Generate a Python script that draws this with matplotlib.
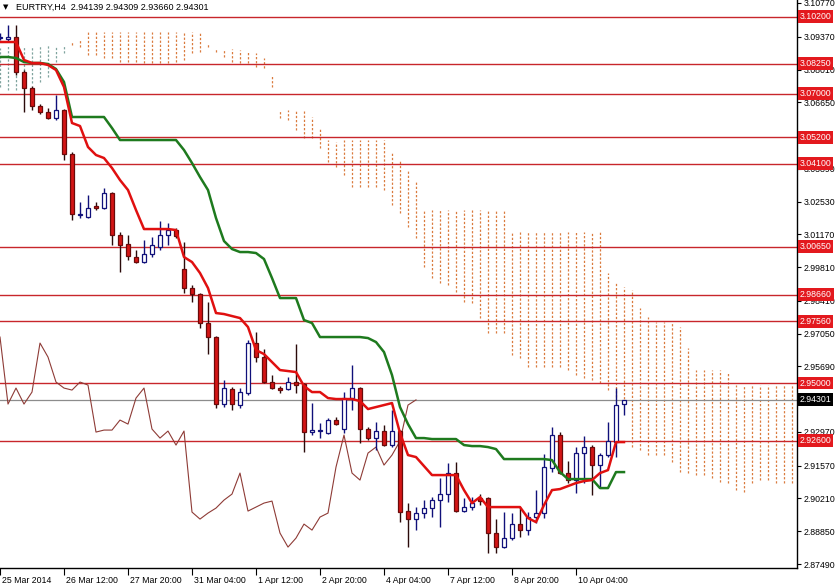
import matplotlib
matplotlib.use("Agg")
import matplotlib.pyplot as plt
import matplotlib.transforms as mtransforms
import numpy as np

# ---------------- data ----------------
symbol_title = "EURTRY,H4  2.94139 2.94309 2.93660 2.94301"

opens = [3.09317, 3.09276, 3.09359, 3.07906, 3.07242, 3.06495, 3.06246, 3.05997, 3.06329, 3.04503,
         3.01972, 3.01889, 3.02345, 3.02262, 3.02885, 3.01142, 3.00768, 3.00229, 3.00021, 3.00353,
         3.00644, 3.01142, 3.01349, 2.99731, 2.98942, 2.98693, 2.97490, 2.96909, 2.94128, 2.94751,
         2.94087, 2.94585, 2.96660, 2.96079, 2.95041, 2.94792, 2.94751, 2.95041, 2.94958, 2.92966,
         2.93008, 2.92925, 2.93464, 2.93091, 2.94377, 2.94792, 2.93091, 2.92717, 2.93008, 2.92427,
         2.93008, 2.89688, 2.89356, 2.89605, 2.89812, 2.90144, 2.90393, 2.91265, 2.89688, 2.89854,
         2.90227, 2.90227, 2.88775, 2.88194, 2.88567, 2.89148, 2.88899, 2.89439, 2.89605, 2.91472,
         2.92842, 2.91265, 2.90974, 2.92095, 2.92344, 2.91597, 2.92012, 2.92551, 2.94139]
highs = [3.09525, 3.09857, 3.09857, 3.07989, 3.07325, 3.06578, 3.06412, 3.06952, 3.06371, 3.04586,
         3.02511, 3.02802, 3.02511, 3.03092, 3.02926, 3.01266, 3.01142, 3.00519, 3.00934, 3.01059,
         3.01723, 3.01640, 3.01432, 3.00851, 2.99067, 2.98735, 2.98361, 2.96950, 2.95124, 2.94834,
         2.94792, 2.96784, 2.97116, 2.96411, 2.95332, 2.94875, 2.95249, 2.96618, 2.95000, 2.94170,
         2.93340, 2.93547, 2.93589, 2.94626, 2.95747, 2.94834, 2.93174, 2.93381, 2.93257, 2.93879,
         2.93049, 2.90020, 2.89854, 2.90144, 2.90269, 2.91057, 2.91680, 2.91721, 2.90227, 2.90269,
         2.90393, 2.90269, 2.89356, 2.89646, 2.89605, 2.89854, 2.89646, 2.90559, 2.92053, 2.93174,
         2.92966, 2.91763, 2.92344, 2.92800, 2.92427, 2.92095, 2.93381, 2.94792, 2.94309]
lows = [3.09234, 3.09193, 3.07782, 3.06246, 3.06329, 3.06163, 3.05956, 3.05914, 3.04254, 3.01764,
        3.01847, 3.01847, 3.02179, 3.02221, 3.00727, 2.99606, 3.00104, 2.99980, 2.99980, 3.00229,
        3.00519, 3.00727, 3.01017, 2.98735, 2.98361, 2.97282, 2.96203, 2.93962, 2.94004, 2.93879,
        2.93962, 2.94502, 2.95871, 2.95000, 2.94751, 2.94585, 2.94709, 2.94585, 2.92136, 2.92842,
        2.92717, 2.92883, 2.93257, 2.92925, 2.93879, 2.92510, 2.92634, 2.92219, 2.92385, 2.92344,
        2.89231, 2.88194, 2.88899, 2.89397, 2.89439, 2.89024, 2.90061, 2.89646, 2.89646, 2.89729,
        2.89937, 2.87945, 2.87945, 2.88152, 2.88484, 2.88609, 2.88692, 2.89190, 2.89397, 2.91306,
        2.91223, 2.90850, 2.90435, 2.90850, 2.90352, 2.90642, 2.91929, 2.91929, 2.93660]
closes = [3.09359, 3.09359, 3.07906, 3.07242, 3.06495, 3.06246, 3.05997, 3.06329, 3.04503, 3.02013,
          3.02013, 3.02262, 3.02262, 3.02885, 3.01142, 3.00727, 3.00270, 3.00021, 3.00353, 3.00727,
          3.01142, 3.01349, 3.01100, 2.98942, 2.98693, 2.97490, 2.96909, 2.94128, 2.94792, 2.94128,
          2.94626, 2.96660, 2.96079, 2.95041, 2.94792, 2.94709, 2.95041, 2.94917, 2.92966, 2.93049,
          2.93049, 2.93464, 2.93298, 2.94377, 2.94792, 2.93091, 2.92717, 2.93008, 2.92427, 2.93008,
          2.89646, 2.89356, 2.89605, 2.89812, 2.90144, 2.90393, 2.91265, 2.89688, 2.89854, 2.90020,
          2.90103, 2.88775, 2.88194, 2.88567, 2.89148, 2.88899, 2.89439, 2.89605, 2.91514, 2.92842,
          2.91265, 2.90974, 2.92095, 2.92344, 2.91597, 2.92012, 2.92593, 2.94087, 2.94301]

tenkan = [3.09151, 3.09151, 3.09151, 3.08404, 3.08280, 3.08280, 3.08197, 3.07989, 3.07284, 3.05790,
          3.05665, 3.04794, 3.04462, 3.04337, 3.03922, 3.03424, 3.03009, 3.02179, 3.01390, 3.01390,
          3.01390, 3.01390, 3.01349, 3.00229, 3.00021, 2.99565, 2.98942, 2.97905, 2.97863, 2.97780,
          2.97697, 2.97324, 2.96369, 2.96203, 2.95871, 2.95539, 2.95498, 2.95456, 2.94875, 2.94626,
          2.94626, 2.94377, 2.94336, 2.94336, 2.94336, 2.94253, 2.93921, 2.94004, 2.94087, 2.94170,
          2.92925, 2.92012, 2.91929, 2.91555, 2.91182, 2.91182, 2.91182, 2.91182, 2.90559, 2.90020,
          2.90269, 2.89854, 2.89854, 2.89854, 2.89854, 2.89854, 2.89397, 2.89231, 2.89937, 2.90559,
          2.90601, 2.90725, 2.90850, 2.90933, 2.90974, 2.91265, 2.91389, 2.92551, 2.92551]
kijun = [3.08529, 3.08529, 3.08487, 3.08321, 3.08280, 3.08280, 3.08238, 3.08031, 3.07491, 3.06039,
         3.06039, 3.06039, 3.06039, 3.06039, 3.05582, 3.05084, 3.05084, 3.05084, 3.05084, 3.05084,
         3.05084, 3.05084, 3.05084, 3.04669, 3.04130, 3.03549, 3.03009, 3.01847, 3.00893, 3.00561,
         3.00436, 3.00436, 3.00395, 3.00146, 2.99357, 2.98527, 2.98527, 2.98527, 2.97614, 2.97490,
         2.96909, 2.96909, 2.96909, 2.96909, 2.96909, 2.96909, 2.96867, 2.96701, 2.96286, 2.95332,
         2.94004, 2.93298, 2.92717, 2.92717, 2.92676, 2.92676, 2.92676, 2.92676, 2.92427, 2.92385,
         2.92385, 2.92344, 2.92261, 2.91846, 2.91846, 2.91846, 2.91846, 2.91846, 2.91846, 2.91804,
         2.91306, 2.91016, 2.91016, 2.91016, 2.91016, 2.90642, 2.90642, 2.91306, 2.91306]

# Senkou spans (already shifted 26 bars forward, so they run past the last candle)
span_a = [3.08902, 3.09027, 3.09027, 3.08944, 3.08944, 3.09027, 3.09027, 3.08944, 3.09027, 3.09027,
          3.08944, 3.08612, 3.08612, 3.08487, 3.08487, 3.08321, 3.08321, 3.08321, 3.08280, 3.08280,
          3.08280, 3.08280, 3.08321, 3.08404, 3.08695, 3.08736, 3.08944, 3.08736, 3.08529, 3.08321,
          3.08280, 3.08280, 3.08114, 3.08072, 3.07284, 3.05997, 3.05914, 3.05499, 3.05167, 3.05167,
          3.04752, 3.04171, 3.03964, 3.03632, 3.03134, 3.03134, 3.03134, 3.03134, 3.03009, 3.02387,
          3.02055, 3.01474, 3.01017, 2.99814, 2.99357, 2.99150, 2.99067, 2.98776, 2.98361, 2.98320,
          2.97697, 2.97075, 2.97075, 2.97075, 2.96162, 2.96037, 2.95664, 2.95664, 2.95664, 2.95664,
          2.95664, 2.95539, 2.95332, 2.95207, 2.95124, 2.95000, 2.94709, 2.94419, 2.94170, 2.92344,
          2.92219, 2.92012, 2.92012, 2.92012, 2.91721, 2.91306, 2.91265, 2.91182, 2.91182, 2.91057,
          2.90891, 2.90850, 2.90559, 2.90476, 2.90850, 2.90974, 2.90974, 2.90850, 2.90850, 2.90850]
span_b = [3.07284, 3.07159, 3.07159, 3.07284, 3.07450, 3.07491, 3.07699, 3.08321, 3.08695, 3.09151,
          3.09234, 3.09566, 3.09566, 3.09566, 3.09566, 3.09566, 3.09566, 3.09566, 3.09566, 3.09566,
          3.09566, 3.09566, 3.09566, 3.09566, 3.09566, 3.09566, 3.09110, 3.08861, 3.08861, 3.08861,
          3.08819, 3.08736, 3.08695, 3.08487, 3.07782, 3.06329, 3.06329, 3.06329, 3.06329, 3.06039,
          3.05582, 3.05084, 3.05001, 3.05084, 3.05084, 3.05084, 3.05084, 3.05084, 3.05084, 3.04586,
          3.04254, 3.03839, 3.03341, 3.02179, 3.02179, 3.02179, 3.02179, 3.02179, 3.02179, 3.02179,
          3.02179, 3.02179, 3.02179, 3.02179, 3.01266, 3.01266, 3.01266, 3.01266, 3.01266, 3.01266,
          3.01266, 3.01266, 3.01266, 3.01266, 3.01266, 3.01266, 2.99565, 2.99191, 2.98984, 2.98859,
          2.98112, 2.97739, 2.97531, 2.97531, 2.97531, 2.97324, 2.96452, 2.95539, 2.95539, 2.95539,
          2.95539, 2.95415, 2.94917, 2.94917, 2.94917, 2.94917, 2.94917, 2.94917, 2.94917, 2.94917]

levels = [3.10200, 3.08250, 3.07000, 3.05200, 3.04100, 3.00650, 2.98660, 2.97560, 2.95000, 2.92600]
y_ticks = [3.10770, 3.09370, 3.08010, 3.06650, 3.05290, 3.03890, 3.02530, 3.01170, 2.99810,
           2.98410, 2.97050, 2.95690, 2.94330, 2.92970, 2.91570, 2.90210, 2.88850, 2.87490]
y_tick_labels = ["3.10770", "3.09370", "3.08010", "3.06650", "", "3.03890", "3.02530", "3.01170",
                 "2.99810", "2.98410", "2.97050", "2.95690", "", "2.92970", "2.91570", "2.90210",
                 "2.88850", "2.87490"]
x_tick_labels = ["25 Mar 2014", "26 Mar 12:00", "27 Mar 20:00", "31 Mar 04:00", "1 Apr 12:00",
                 "2 Apr 20:00", "4 Apr 04:00", "7 Apr 12:00", "8 Apr 20:00", "10 Apr 04:00"]
x_tick_bars = [0, 8, 16, 24, 32, 40, 48, 56, 64, 72]
chikou_shift = 26

# ---------------- figure ----------------
W, H = 837, 584
fig = plt.figure(figsize=(W / 100, H / 100), dpi=100)
ax_left, ax_right, ax_bottom, ax_top = 0, 797, 568, 0
ax = fig.add_axes([ax_left / W, (H - ax_bottom) / H, (ax_right - ax_left) / W, (ax_bottom - ax_top) / H])
ax.set_facecolor("white")
FONT = ["Liberation Sans", "DejaVu Sans"]
FS = 6.3

n = len(closes)
idx = np.arange(n)
o = np.array(opens); h = np.array(highs); l = np.array(lows); c = np.array(closes)

# cloud as dotted vertical lines
sa = np.array(span_a); sb = np.array(span_b)
cidx = np.arange(len(sa))
bear = sb >= sa
ax.vlines(cidx[bear], np.minimum(sa, sb)[bear], np.maximum(sa, sb)[bear],
          colors="#DA7B3E", linewidth=0.9, linestyles=(0, (1.8, 1.5)), zorder=1)
ax.vlines(cidx[~bear], np.minimum(sa, sb)[~bear], np.maximum(sa, sb)[~bear],
          colors="#7FA39E", linewidth=0.9, linestyles=(0, (1.8, 1.5)), zorder=1)

# horizontal levels
for lv in levels:
    ax.axhline(lv, color="#C8262B", linewidth=1.0, zorder=2)
ax.axhline(closes[-1], color="#8C8C8C", linewidth=0.9, zorder=2)

# chikou span
ax.plot(idx[chikou_shift:] - chikou_shift, c[chikou_shift:], color="#8E3B36", linewidth=0.8, zorder=3)

# candles
up = c >= o
ax.vlines(idx[up], l[up], h[up], color="#10107A", linewidth=1.0, zorder=4)
ax.vlines(idx[~up], l[~up], h[~up], color="#2A0A0A", linewidth=1.0, zorder=4)
body_lo = np.minimum(o, c); body_hi = np.maximum(o, c)
body_h = np.maximum(body_hi - body_lo, 0.0004)
ax.bar(idx[up], body_h[up], bottom=body_lo[up], width=0.55, facecolor="white",
       edgecolor="#10107A", linewidth=0.9, zorder=5)
ax.bar(idx[~up], body_h[~up], bottom=body_lo[~up], width=0.55, facecolor="#D41515",
       edgecolor="#6A0A0A", linewidth=0.9, zorder=5)

# tenkan / kijun
ax.plot(idx, kijun, color="#1E7A1E", linewidth=1.8, zorder=6)
ax.plot(idx, tenkan, color="#E01010", linewidth=1.8, zorder=7)

# axes limits / spines
ax.set_xlim(0, (ax_right - ax_left) / 8.0)
ax.set_ylim(2.87326, 3.10894)
for s in ["top", "left"]:
    ax.spines[s].set_visible(False)
ax.spines["right"].set_color("black")
ax.spines["bottom"].set_color("black")
ax.spines["right"].set_linewidth(1.0)
ax.spines["bottom"].set_linewidth(1.0)

ax.yaxis.tick_right()
ax.set_yticks(y_ticks)
ax.set_yticklabels(y_tick_labels, fontsize=FS, family=FONT)
ax.tick_params(axis="y", direction="out", length=3, width=0.8, pad=1.5, colors="black")

ax.set_xticks(x_tick_bars)
ax.set_xticklabels(x_tick_labels, fontsize=FS, family=FONT)
ax.tick_params(axis="x", direction="out", length=5, width=0.8, pad=0.5, colors="black")
off = mtransforms.ScaledTranslation(2 / 100, 0, fig.dpi_scale_trans)
for lab in ax.get_xticklabels():
    lab.set_horizontalalignment("left")
    lab.set_transform(lab.get_transform() + off)

# price labels on the right axis
ytr = ax.get_yaxis_transform()
for lv in levels:
    ax.text(1.0035, lv, f"{lv:.5f}", transform=ytr, fontsize=FS, family=FONT, color="white",
            va="center", ha="left", clip_on=False, zorder=20,
            bbox=dict(boxstyle="square,pad=0.22", facecolor="#E3191E", edgecolor="none"))
ax.text(1.0035, closes[-1], f"{closes[-1]:.5f}", transform=ytr, fontsize=FS, family=FONT,
        color="white", va="center", ha="left", clip_on=False, zorder=21,
        bbox=dict(boxstyle="square,pad=0.22", facecolor="black", edgecolor="none"))

# title
fig.text(3 / W, 1 - 7 / H, "\u25BC", fontsize=5, family=["DejaVu Sans"], va="center", ha="left")
fig.text(16 / W, 1 - 7 / H, symbol_title, fontsize=6.5, family=FONT, va="center", ha="left")

fig.savefig("out.png", dpi=100, facecolor="white")
